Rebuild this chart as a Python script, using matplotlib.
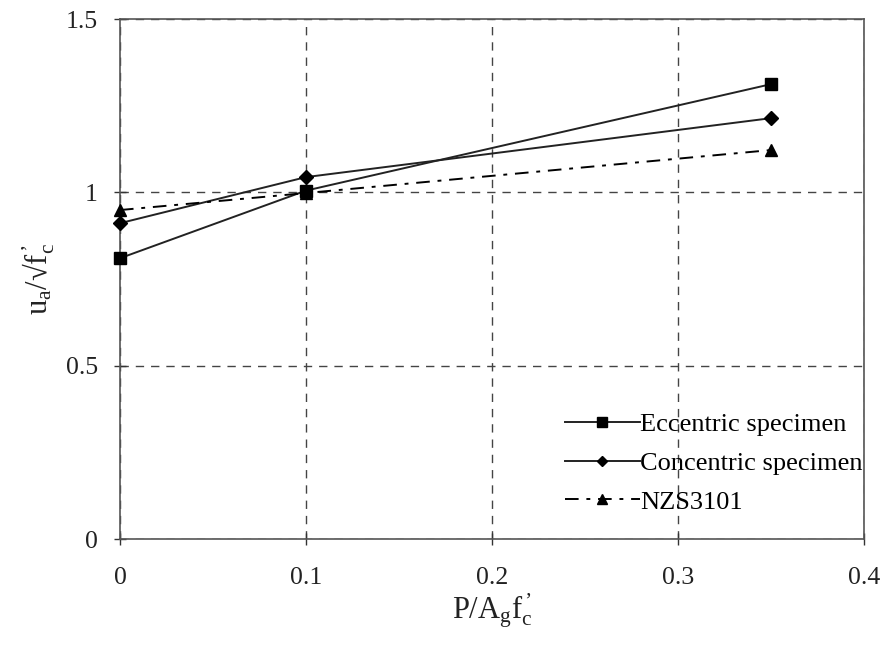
import matplotlib.pyplot as plt
import numpy as np

# data
x = [0, 0.1, 0.35]
eccentric = [0.81, 1.005, 1.312]
concentric = [0.911, 1.044, 1.214]
nzs3101 = [0.949, 0.998, 1.122]

plt.rcParams['font.family'] = 'Liberation Serif'
plt.rcParams['mathtext.fontset'] = 'stix'

fig = plt.figure(figsize=(8.86, 6.45), dpi=100)
ax = fig.add_axes([0.1354, 0.1643, 0.8396, 0.8062])

ax.plot(x, eccentric, color='#222222', lw=1.4, marker='s', ms=8.5,
        mfc='black', mec='black', label='Eccentric specimen', clip_on=False, zorder=3)
ax.plot(x, concentric, color='#222222', lw=1.4, marker='D', ms=7,
        mfc='black', mec='black', label='Concentric specimen', clip_on=False, zorder=3)
ax.plot(x, nzs3101, color='black', lw=1.4, dashes=(7, 4, 2, 4), marker='^', ms=9,
        mfc='black', mec='black', label='NZS3101', clip_on=False, zorder=3)

ax.set_xlim(0, 0.4)
ax.set_ylim(0, 1.5)
ax.set_xticks([0, 0.1, 0.2, 0.3, 0.4])
ax.set_xticklabels(['0', '0.1', '0.2', '0.3', '0.4'])
ax.set_yticks([0, 0.5, 1, 1.5])
ax.set_yticklabels(['0', '0.5', '1', '1.5'])
ax.tick_params(direction='inout', length=8, width=1, labelsize=18.5, colors='#333333',
               labelcolor='#222222', pad=12)
ax.tick_params(axis='x', pad=16)

ax.grid(True, linestyle=(0, (6, 5)), color='#444444', lw=1)
for s in ax.spines.values():
    s.set_color('#555555')
    s.set_linewidth(1.2)

ax.set_xlabel(r"$\mathregular{P/A_g f_c^{\,’}}$", fontsize=22, labelpad=2, color='#222222')
ax.set_ylabel("u$\\mathregular{_a}$/√f$\\mathregular{_c^{\\,’}}$", fontsize=22, labelpad=6,
              color='#222222')

ax.legend(loc='upper left', bbox_to_anchor=(0.598, 0.243), frameon=False, fontsize=19,
          handlelength=2.85, handletextpad=0.0, labelspacing=0.58,
          borderaxespad=0, borderpad=0, markerscale=0.8)

fig.savefig('out.png', dpi=100)
